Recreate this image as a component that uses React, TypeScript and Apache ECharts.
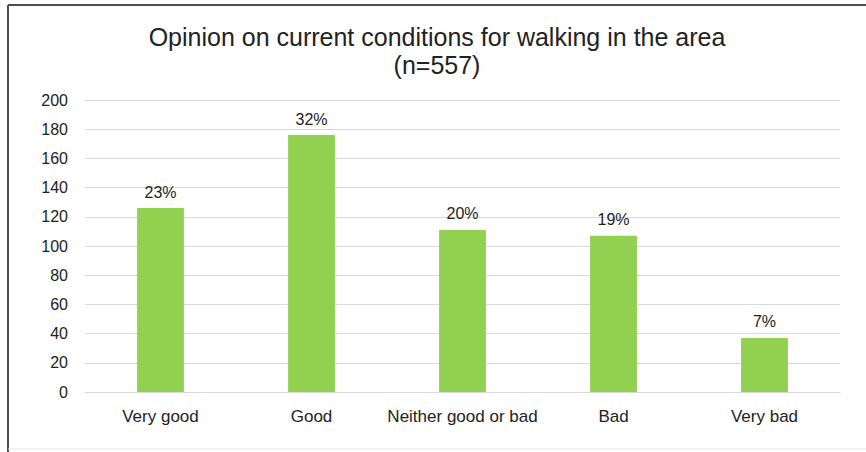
import React, { useEffect, useRef } from "react";
import * as echarts from "echarts";

const categories = ["Very good", "Good", "Neither good or bad", "Bad", "Very bad"];
const counts = [126, 176, 111, 107, 37];
const percentLabels = ["23%", "32%", "20%", "19%", "7%"];
const yTicks = { min: 0, max: 200, interval: 20 };
const titleText = "Opinion on current conditions for walking in the area\n(n=557)";

const FONT = "'Liberation Sans', Arial, sans-serif";

export default function App() {
  const ref = useRef<HTMLDivElement>(null);
  useEffect(() => {
    if (!ref.current) return;
    const chart = echarts.init(ref.current, null, { renderer: "svg" });
    chart.setOption({
      animation: false,
      backgroundColor: "#ffffff",
      title: {
        text: titleText,
        left: 437,
        textAlign: "center",
        top: 23,
        padding: 0,
        textStyle: {
          fontFamily: FONT,
          fontSize: 25,
          fontWeight: "normal",
          color: "#222222",
          lineHeight: 28,
        },
      },
      grid: { left: 85, right: 26, top: 100, bottom: 60 },
      xAxis: {
        type: "category",
        data: categories,
        axisLine: { show: true, lineStyle: { color: "#d9d9d9", width: 1 } },
        axisTick: { show: false },
        axisLabel: { fontFamily: FONT, fontSize: 17, color: "#222222", margin: 16, interval: 0 },
      },
      yAxis: {
        type: "value",
        min: yTicks.min,
        max: yTicks.max,
        interval: yTicks.interval,
        axisLine: { show: false },
        axisTick: { show: false },
        splitLine: { lineStyle: { color: "#d9d9d9", width: 1 } },
        axisLabel: { fontFamily: FONT, fontSize: 16, color: "#222222", margin: 17 },
      },
      series: [
        {
          type: "bar",
          data: counts,
          barWidth: "31%",
          itemStyle: { color: "#92d050" },
          label: {
            show: true,
            position: "top",
            distance: 8,
            fontFamily: FONT,
            fontSize: 16,
            color: "#222222",
            formatter: (p: any) => percentLabels[p.dataIndex],
          },
        },
      ],
      graphic: [
        { type: "line", shape: { x1: 8, y1: 5, x2: 866, y2: 5 }, style: { stroke: "#4d4d4d", lineWidth: 2 } },
        { type: "line", shape: { x1: 8, y1: 5, x2: 8, y2: 452 }, style: { stroke: "#4d4d4d", lineWidth: 2 } },
        { type: "line", shape: { x1: 8, y1: 449, x2: 866, y2: 449 }, style: { stroke: "#e6e6e6", lineWidth: 1 } },
      ],
    });
    return () => chart.dispose();
  }, []);
  return <div ref={ref} style={{ width: 866, height: 452, position: "fixed", left: 0, top: 0 }} />;
}
